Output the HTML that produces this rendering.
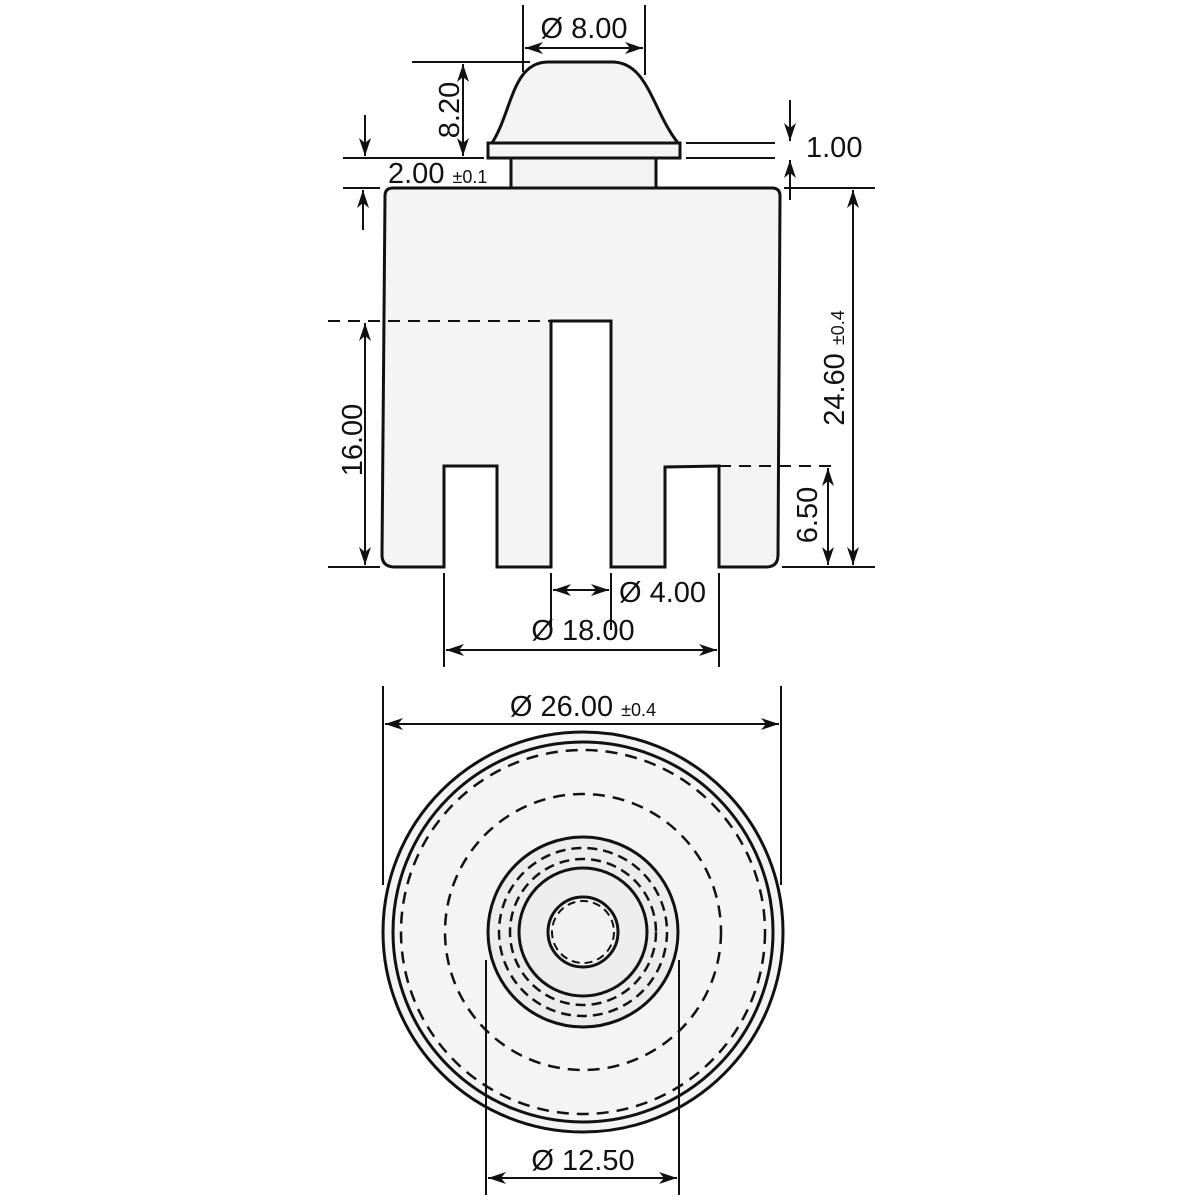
<!DOCTYPE html>
<html><head><meta charset="utf-8"><style>
html,body{margin:0;padding:0;background:#fff;}
svg{display:block;}
text{font-family:"Liberation Sans",sans-serif;fill:#111;}
</style></head><body>
<svg width="1200" height="1200" viewBox="0 0 1200 1200" xmlns="http://www.w3.org/2000/svg">
<defs>
<marker id="a" viewBox="0 0 18 12" refX="18" refY="6" markerWidth="18" markerHeight="12" markerUnits="userSpaceOnUse" orient="auto-start-reverse">
<path d="M0,0 L18,6 L0,12 L5,6 Z" fill="#111"/></marker>
</defs>
<g stroke="#111" fill="none" stroke-width="2">
<!-- cap -->
<path d="M492,143 C512,112 512,62 548,62 L612,62 C648,62 652,110 678,143 Z" fill="#f4f4f4" stroke-width="3"/>
<rect x="488" y="143" width="192" height="15" fill="#f4f4f4" stroke-width="3"/>
<rect x="511" y="158" width="145" height="30" fill="#f4f4f4" stroke-width="3"/>
<!-- body -->
<path d="M393,188 L772,188 Q780,188 780,196 L778,555 Q778,567 766,567 L719,567 L719,466 L665,467 L665,567 L611,567 L611,321 L551,321 L551,567 L497,567 L497,466 L444,466 L444,567 L395,567 Q382,567 382,555 L385,196 Q385,188 393,188 Z" fill="#f4f4f4" stroke-width="3"/>
<!-- dims top -->
<line x1="523" y1="5" x2="523" y2="72"/><line x1="645" y1="5" x2="645" y2="75"/>
<line x1="525" y1="48" x2="643" y2="48" marker-start="url(#a)" marker-end="url(#a)"/>
<line x1="412" y1="62" x2="530" y2="62"/>
<line x1="463" y1="64" x2="463" y2="156" marker-start="url(#a)" marker-end="url(#a)"/>
<line x1="343" y1="158" x2="484" y2="158"/>
<line x1="343" y1="188" x2="380" y2="188"/>
<line x1="365" y1="115" x2="365" y2="156" marker-end="url(#a)"/>
<line x1="363" y1="230" x2="363" y2="190" marker-end="url(#a)"/>
<line x1="686" y1="143" x2="775" y2="143"/><line x1="686" y1="158" x2="775" y2="158"/>
<line x1="790" y1="100" x2="790" y2="141" marker-end="url(#a)"/>
<line x1="790" y1="200" x2="790" y2="160" marker-end="url(#a)"/>
<line x1="784" y1="188" x2="875" y2="188"/><line x1="782" y1="567" x2="875" y2="567"/>
<line x1="853" y1="190" x2="853" y2="565" marker-start="url(#a)" marker-end="url(#a)"/>
<line x1="719" y1="466" x2="835" y2="466" stroke-dasharray="12,8"/>
<line x1="828" y1="468" x2="828" y2="565" marker-start="url(#a)" marker-end="url(#a)"/>
<line x1="328" y1="321" x2="551" y2="321" stroke-dasharray="12,8"/>
<line x1="365" y1="323" x2="365" y2="565" marker-start="url(#a)" marker-end="url(#a)"/>
<line x1="328" y1="567" x2="380" y2="567"/>
<line x1="551" y1="573" x2="551" y2="630"/><line x1="611" y1="573" x2="611" y2="630"/>
<line x1="553" y1="590" x2="609" y2="590" marker-start="url(#a)" marker-end="url(#a)"/>
<line x1="444" y1="573" x2="444" y2="667"/><line x1="719" y1="573" x2="719" y2="667"/>
<line x1="446" y1="650" x2="717" y2="650" marker-start="url(#a)" marker-end="url(#a)"/>
<!-- bottom view -->
<line x1="383" y1="686" x2="383" y2="885"/><line x1="781" y1="686" x2="781" y2="885"/>
<line x1="385" y1="724" x2="779" y2="724" marker-start="url(#a)" marker-end="url(#a)"/>
<circle cx="583" cy="932" r="200" fill="#f4f4f4" stroke-width="3"/>
<circle cx="583" cy="932" r="190" stroke-width="3"/>
<circle cx="583" cy="932" r="182" stroke-width="2.5" stroke-dasharray="12,8"/>
<circle cx="583" cy="932" r="138" stroke-width="2.5" stroke-dasharray="12,8"/>
<circle cx="583" cy="932" r="95" fill="#ececec" stroke-width="3"/>
<circle cx="583" cy="932" r="84" stroke-width="2.5" stroke-dasharray="10,6"/>
<circle cx="583" cy="932" r="73" stroke-width="2.5" stroke-dasharray="10,6"/>
<circle cx="583" cy="932" r="64" fill="#ededed" stroke-width="3"/>
<circle cx="583" cy="932" r="35" fill="#f2f2f2" stroke-width="3"/>
<circle cx="583" cy="932" r="31" stroke-width="2" stroke-dasharray="8,5"/>
<line x1="486" y1="960" x2="486" y2="1195"/><line x1="679" y1="960" x2="679" y2="1195"/>
<line x1="488" y1="1178" x2="677" y2="1178" marker-start="url(#a)" marker-end="url(#a)"/>
</g>
<g font-size="29">
<text x="584" y="38" text-anchor="middle">Ø 8.00</text>
<text transform="translate(459,110) rotate(-90)" text-anchor="middle">8.20</text>
<text x="388" y="183">2.00 <tspan font-size="18">±0.1</tspan></text>
<text x="806" y="157">1.00</text>
<text transform="translate(844,368) rotate(-90)" text-anchor="middle">24.60 <tspan font-size="18">±0.4</tspan></text>
<text transform="translate(817,515) rotate(-90)" text-anchor="middle">6.50</text>
<text transform="translate(362,440) rotate(-90)" text-anchor="middle">16.00</text>
<text x="619" y="602">Ø 4.00</text>
<text x="583" y="640" text-anchor="middle">Ø 18.00</text>
<text x="583" y="716" text-anchor="middle">Ø 26.00 <tspan font-size="18">±0.4</tspan></text>
<text x="583" y="1170" text-anchor="middle">Ø 12.50</text>
</g>
</svg>
</body></html>
